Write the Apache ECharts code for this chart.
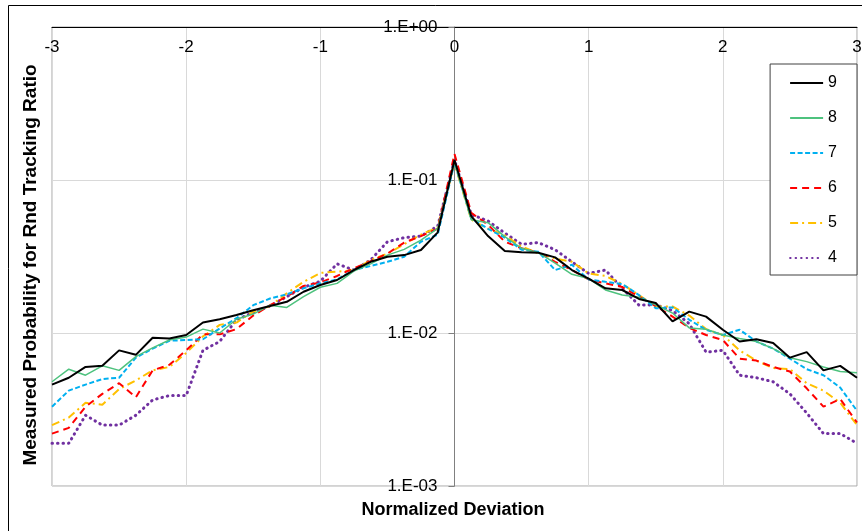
<!DOCTYPE html>
<html>
<head>
<meta charset="utf-8">
<script src="https://cdn.jsdelivr.net/npm/echarts@6/dist/echarts.min.js"></script>
<style>html,body{margin:0;padding:0;background:#fff;}#c{width:862px;height:531px;}</style>
</head>
<body>
<div id="c"></div>
<script>
const xValues = [-3,-2.875,-2.75,-2.625,-2.5,-2.375,-2.25,-2.125,-2,-1.875,-1.75,-1.625,-1.5,-1.375,-1.25,-1.125,-1,-0.875,-0.75,-0.625,-0.5,-0.375,-0.25,-0.125,0,0.125,0.25,0.375,0.5,0.625,0.75,0.875,1,1.125,1.25,1.375,1.5,1.625,1.75,1.875,2,2.125,2.25,2.375,2.5,2.625,2.75,2.875,3];
const seriesNames = ['9','8','7','6','5','4'];
const s9 = [4.6e-3,5.1e-3,6.0e-3,6.1e-3,7.7e-3,7.2e-3,9.3e-3,9.2e-3,9.7e-3,1.17e-2,1.23e-2,1.31e-2,1.41e-2,1.50e-2,1.60e-2,1.86e-2,2.06e-2,2.22e-2,2.58e-2,2.92e-2,3.15e-2,3.23e-2,3.49e-2,4.55e-2,0.135,5.8e-2,4.3e-2,3.43e-2,3.37e-2,3.35e-2,3.12e-2,2.58e-2,2.27e-2,1.96e-2,1.91e-2,1.67e-2,1.57e-2,1.19e-2,1.38e-2,1.28e-2,1.05e-2,8.8e-3,9.1e-3,8.6e-3,6.9e-3,7.5e-3,5.7e-3,6.1e-3,5.1e-3];
const s8 = [4.8e-3,5.8e-3,5.3e-3,6.1e-3,5.7e-3,7.0e-3,8.0e-3,9.0e-3,9.4e-3,1.06e-2,1.0e-2,1.23e-2,1.33e-2,1.52e-2,1.47e-2,1.73e-2,1.99e-2,2.11e-2,2.54e-2,2.83e-2,3.23e-2,3.52e-2,4.05e-2,4.83e-2,0.13,5.5e-2,5.26e-2,4.26e-2,3.58e-2,3.35e-2,2.86e-2,2.42e-2,2.27e-2,1.91e-2,1.77e-2,1.71e-2,1.53e-2,1.35e-2,1.08e-2,1.06e-2,9.7e-3,9.2e-3,8.8e-3,7.9e-3,6.9e-3,6.5e-3,6.0e-3,5.6e-3,5.5e-3];
const s7 = [3.3e-3,4.2e-3,4.6e-3,5.0e-3,5.1e-3,6.9e-3,7.9e-3,8.9e-3,9.0e-3,9.1e-3,1.07e-2,1.25e-2,1.52e-2,1.68e-2,1.79e-2,1.96e-2,2.11e-2,2.24e-2,2.58e-2,2.74e-2,2.92e-2,3.15e-2,3.95e-2,4.4e-2,0.13,5.6e-2,4.8e-2,4.2e-2,3.5e-2,3.4e-2,2.58e-2,2.79e-2,2.24e-2,2.16e-2,2.09e-2,1.77e-2,1.45e-2,1.47e-2,1.22e-2,1.05e-2,9.7e-3,1.05e-2,8.8e-3,7.9e-3,6.8e-3,5.8e-3,5.3e-3,4.4e-3,3.1e-3];
const s6 = [2.2e-3,2.4e-3,3.3e-3,4.0e-3,4.7e-3,3.8e-3,5.7e-3,6.2e-3,7.7e-3,9.8e-3,9.8e-3,1.06e-2,1.3e-2,1.52e-2,1.73e-2,2.03e-2,2.14e-2,2.36e-2,2.65e-2,2.95e-2,3.3e-2,3.9e-2,4.3e-2,4.8e-2,0.148,6.1e-2,5.1e-2,3.95e-2,3.58e-2,3.35e-2,2.92e-2,2.58e-2,2.24e-2,2.11e-2,2.0e-2,1.73e-2,1.5e-2,1.28e-2,1.08e-2,9.7e-3,9.0e-3,6.8e-3,6.6e-3,6.0e-3,5.6e-3,4.35e-3,3.3e-3,3.7e-3,2.6e-3];
const s5 = [2.5e-3,2.8e-3,3.5e-3,3.4e-3,4.3e-3,4.9e-3,5.7e-3,6.0e-3,7.4e-3,9.5e-3,1.13e-2,1.17e-2,1.38e-2,1.5e-2,1.82e-2,2.16e-2,2.47e-2,2.52e-2,2.57e-2,3.0e-2,3.3e-2,3.8e-2,4.4e-2,4.9e-2,0.128,5.5e-2,4.8e-2,4.35e-2,3.67e-2,3.32e-2,3.07e-2,2.92e-2,2.45e-2,2.36e-2,2.09e-2,1.77e-2,1.49e-2,1.49e-2,1.3e-2,1.06e-2,9.7e-3,7.7e-3,6.6e-3,5.9e-3,5.8e-3,4.7e-3,4.2e-3,3.5e-3,2.5e-3];
const s4 = [1.9e-3,1.9e-3,2.9e-3,2.5e-3,2.5e-3,2.9e-3,3.65e-3,3.9e-3,3.9e-3,7.7e-3,8.8e-3,1.22e-2,1.36e-2,1.5e-2,1.73e-2,1.99e-2,2.18e-2,2.83e-2,2.58e-2,3.0e-2,3.95e-2,4.2e-2,4.3e-2,5.0e-2,0.135,5.95e-2,5.4e-2,4.5e-2,3.8e-2,3.9e-2,3.5e-2,2.92e-2,2.45e-2,2.58e-2,1.96e-2,1.52e-2,1.53e-2,1.4e-2,1.15e-2,7.5e-3,7.7e-3,5.3e-3,5.1e-3,4.8e-3,4.0e-3,3.0e-3,2.2e-3,2.2e-3,1.9e-3];
const xTickLabels = ['-3','-2','-1','0','1','2','3'];
const yTickLabels = ['1.E-03','1.E-02','1.E-01','1.E+00'];

const FONT = 'Liberation Sans, Arial, sans-serif';
const seriesValues = [s9, s8, s7, s6, s5, s4];
const styles = [
  {color:'#000000', width:2, type:'solid'},
  {color:'#4ec27e', width:1.5, type:'solid'},
  {color:'#00b0f0', width:2, type:[5,2.5]},
  {color:'#ff0000', width:2, type:[7,5]},
  {color:'#ffc000', width:2, type:[8,4,2,4]},
  {color:'#7030a0', width:3, type:[0.5,5], cap:'round'}
];

const GRID_LEFT = 52, GRID_RIGHT = 5, W = 862;
const plotWidth = W - GRID_LEFT - GRID_RIGHT;
const xMin = -3, xMax = 3;
// y axis sits at x = 0 of the value axis
const yAxisOffset = -plotWidth * (0 - xMin) / (xMax - xMin);

const chart = echarts.init(document.getElementById('c'), null, {renderer:'canvas'});
const option = {
  backgroundColor:'#ffffff',
  animation:false,
  grid:{left:GRID_LEFT, right:GRID_RIGHT, top:27, bottom:45, containLabel:false, outerBoundsMode:'none',
        show:true, borderColor:'#a6a6a6', borderWidth:1, backgroundColor:'transparent'},
  legend:{
    data:seriesNames, orient:'vertical', right:5, top:64,
    itemWidth:33, itemHeight:14, itemGap:19,
    padding:[11,20,9,19],
    borderColor:'#404040', borderWidth:1, backgroundColor:'#fff',
    itemStyle:{opacity:0, borderWidth:0},
    textStyle:{fontSize:16, color:'#000', fontFamily:FONT}
  },
  xAxis:{
    type:'value', min:xMin, max:xMax, interval:1, position:'top',
    axisLine:{onZero:false, lineStyle:{color:'#000', width:1}},
    axisTick:{show:false},
    axisLabel:{inside:true, margin:12, fontSize:17, color:'#000', fontFamily:FONT,
      formatter:function(v){ const i = Math.round(v+3); return xTickLabels[i] !== undefined ? xTickLabels[i] : ''; }},
    splitLine:{show:true, lineStyle:{color:'#d9d9d9', width:1}}
  },
  yAxis:{
    type:'log', logBase:10, min:0.001, max:1, position:'left', offset:yAxisOffset,
    axisLine:{show:true, onZero:false, lineStyle:{color:'#808080', width:1}},
    axisTick:{show:true, length:6, lineStyle:{color:'#808080'}},
    axisLabel:{margin:17, fontSize:17, color:'#000', fontFamily:FONT,
      formatter:function(v){ const e = Math.round(Math.log10(v)); const i = e+3; return yTickLabels[i] !== undefined ? yTickLabels[i] : ''; }},
    splitLine:{show:true, lineStyle:{color:'#d9d9d9', width:1}},
    minorTick:{show:false}
  },
  graphic:[
    {type:'rect', silent:true, z:-10, shape:{x:8.5, y:5.5, width:900, height:600}, style:{fill:null, stroke:'#000', lineWidth:1}},
    {type:'text', x:453, y:510, style:{text:'Normalized Deviation', align:'center', verticalAlign:'middle', font:'bold 18px ' + FONT, fill:'#000'}},
    {type:'text', rotation:Math.PI/2, x:31, y:265, style:{text:'Measured Probability for Rnd Tracking Ratio', align:'center', verticalAlign:'middle', font:'bold 19px ' + FONT, fill:'#000'}}
  ],
  series: seriesNames.map(function(name, k){
    return {
      name:name, type:'line', symbol:'none', smooth:false,
      data: xValues.map(function(x, i){ return [x, seriesValues[k][i]]; }),
      lineStyle:{color:styles[k].color, width:styles[k].width, type:styles[k].type, cap:styles[k].cap || 'butt'},
      itemStyle:{color:styles[k].color},
      z: 2 + (5-k)
    };
  })
};
chart.setOption(option);
</script>
</body>
</html>
